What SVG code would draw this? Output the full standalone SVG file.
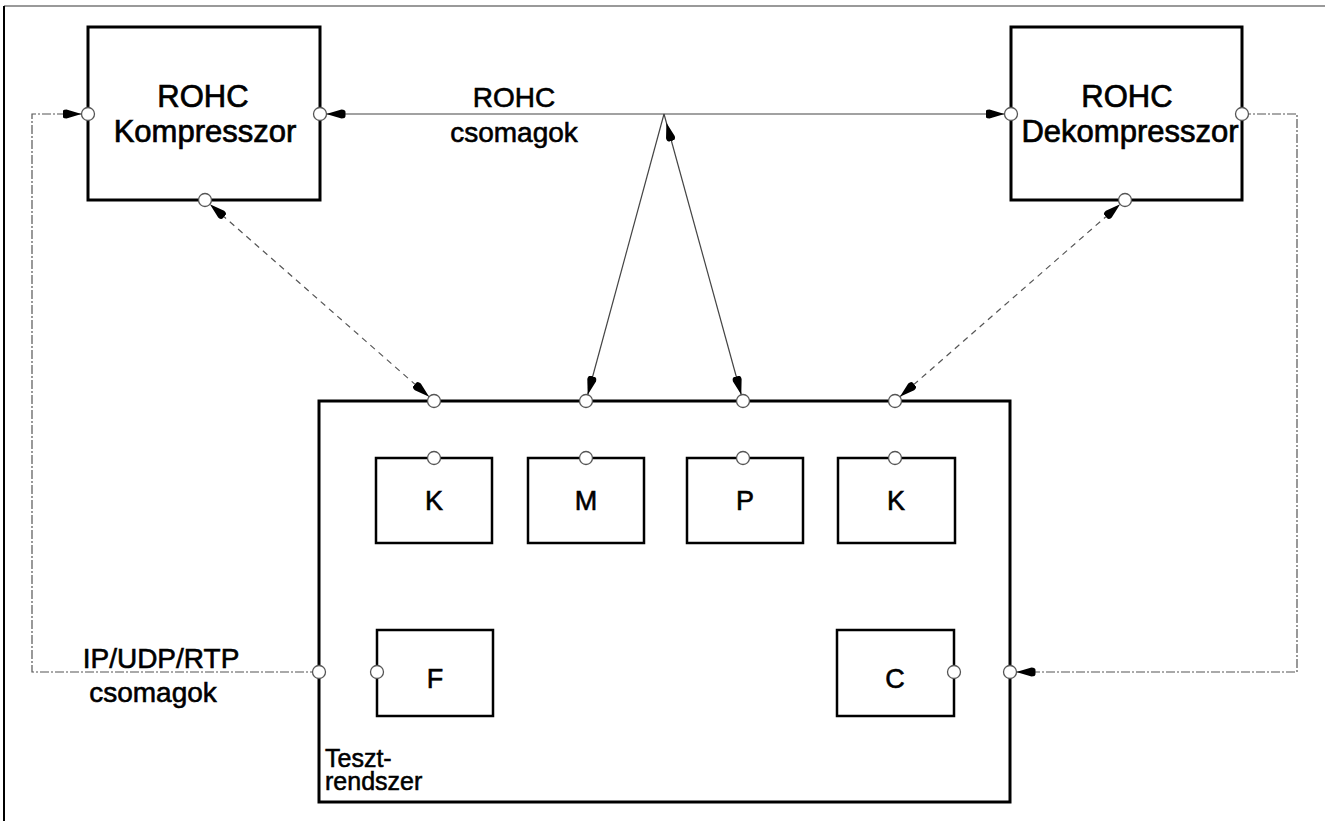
<svg xmlns="http://www.w3.org/2000/svg" width="1325" height="821" viewBox="0 0 1325 821">
<style>
.box{fill:#fff;stroke:#000;stroke-width:3}
.ibox{fill:#fff;stroke:#000;stroke-width:2.5}
.lbl{font-family:"Liberation Sans",Arial,sans-serif;font-size:31px;fill:#000;stroke:#000;stroke-width:0.7;text-anchor:middle}
.clbl{font-family:"Liberation Sans",Arial,sans-serif;font-size:28px;fill:#000;stroke:#000;stroke-width:0.6;text-anchor:middle}
.let{font-family:"Liberation Sans",Arial,sans-serif;font-size:27px;fill:#000;stroke:#000;stroke-width:0.6;text-anchor:middle}
.lbl-l{font-family:"Liberation Sans",Arial,sans-serif;font-size:25px;fill:#000;stroke:#000;stroke-width:0.55}
.solid{stroke:#444;stroke-width:1.2;fill:none}
.dash{stroke:#555;stroke-width:1.2;fill:none;stroke-dasharray:6,5}
.dashdot{stroke:#555;stroke-width:1.2;fill:none;stroke-dasharray:9,2,2,2}
.port{fill:#fff;stroke:#555;stroke-width:1.3}
</style>
<defs>
<marker id="arr" markerUnits="userSpaceOnUse" viewBox="0 0 19 11" markerWidth="19" markerHeight="11" refX="25.5" refY="5.5" orient="auto-start-reverse">
<path d="M0,3.5 Q0,1 4,1 L19,5.5 L4,10 Q0,10 0,7.5 Z" fill="#000"/>
</marker>
<marker id="arrJ" markerUnits="userSpaceOnUse" viewBox="0 0 19 11" markerWidth="19" markerHeight="11" refX="28" refY="5.5" orient="auto-start-reverse">
<path d="M0,3.5 Q0,1 4,1 L19,5.5 L4,10 Q0,10 0,7.5 Z" fill="#000"/>
</marker>
</defs>
<rect width="1325" height="821" fill="#fff"/>
<g id="frame">
<line x1="4" y1="6" x2="1325" y2="6" stroke="#777" stroke-width="1.5"/>
<line x1="4" y1="6" x2="4" y2="821" stroke="#000" stroke-width="2"/>
</g>
<g id="connectors">
<line class="solid" x1="320" y1="114" x2="1011" y2="114" marker-start="url(#arr)" marker-end="url(#arr)"/>
<line class="solid" x1="664" y1="114" x2="586" y2="401" marker-end="url(#arr)"/>
<line class="solid" x1="664" y1="114" x2="743" y2="401" marker-start="url(#arrJ)" marker-end="url(#arr)"/>
<line class="dash" x1="205" y1="200" x2="434" y2="401" marker-start="url(#arr)" marker-end="url(#arr)"/>
<line class="dash" x1="1125" y1="200" x2="895" y2="401" marker-start="url(#arr)" marker-end="url(#arr)"/>
<line class="dash" x1="434" y1="401" x2="434" y2="458"/>
<line class="solid" x1="586" y1="401" x2="586" y2="458"/>
<line class="solid" x1="743" y1="401" x2="743" y2="458"/>
<line class="dash" x1="895" y1="401" x2="895" y2="458"/>
<polyline class="dashdot" points="319,672 32,672 32,114 88,114" marker-end="url(#arr)"/>
<line class="dashdot" x1="319" y1="672" x2="377" y2="672"/>
<polyline class="dashdot" points="1242,114 1297,114 1297,672 1010,672" marker-end="url(#arr)"/>
<line class="dashdot" x1="1010" y1="672" x2="954" y2="672"/>
</g>
<g id="kompresszor">
<rect class="box" x="88" y="27" width="232" height="173"/>
<text class="lbl" x="203" y="107">ROHC</text>
<text class="lbl" x="205" y="142">Kompresszor</text>
</g>
<g id="dekompresszor">
<rect class="box" x="1011" y="27" width="231" height="173"/>
<text class="lbl" x="1127" y="107">ROHC</text>
<text class="lbl" x="1130" y="142">Dekompresszor</text>
</g>
<g id="rohc-label">
<text class="clbl" x="514" y="107">ROHC</text>
<text class="clbl" x="514" y="142">csomagok</text>
</g>
<g id="ip-label">
<text class="clbl" x="161" y="668">IP/UDP/RTP</text>
<text class="clbl" x="153" y="702">csomagok</text>
</g>
<g id="tesztrendszer">
<rect class="box" x="319" y="401" width="691" height="401"/>
<text class="lbl-l" x="325" y="767">Teszt-</text>
<text class="lbl-l" x="325" y="790">rendszer</text>
</g>
<g id="K1"><rect class="ibox" x="376" y="458" width="116" height="85"/><text class="let" x="434" y="510">K</text></g>
<g id="M"><rect class="ibox" x="528" y="458" width="116" height="85"/><text class="let" x="586" y="510">M</text></g>
<g id="P"><rect class="ibox" x="687" y="458" width="116" height="85"/><text class="let" x="745" y="510">P</text></g>
<g id="K2"><rect class="ibox" x="838" y="458" width="117" height="85"/><text class="let" x="896" y="510">K</text></g>
<g id="F"><rect class="ibox" x="377" y="630" width="116" height="86"/><text class="let" x="435" y="688">F</text></g>
<g id="C"><rect class="ibox" x="837" y="630" width="117" height="86"/><text class="let" x="895" y="688">C</text></g>
<g id="ports">
<circle class="port" cx="88" cy="114" r="6.5"/>
<circle class="port" cx="320" cy="114" r="6.5"/>
<circle class="port" cx="205" cy="200" r="6.5"/>
<circle class="port" cx="1011" cy="114" r="6.5"/>
<circle class="port" cx="1242" cy="114" r="6.5"/>
<circle class="port" cx="1125" cy="200" r="6.5"/>
<circle class="port" cx="434" cy="401" r="6.5"/>
<circle class="port" cx="586" cy="401" r="6.5"/>
<circle class="port" cx="743" cy="401" r="6.5"/>
<circle class="port" cx="895" cy="401" r="6.5"/>
<circle class="port" cx="434" cy="458" r="6.5"/>
<circle class="port" cx="586" cy="458" r="6.5"/>
<circle class="port" cx="743" cy="458" r="6.5"/>
<circle class="port" cx="895" cy="458" r="6.5"/>
<circle class="port" cx="377" cy="672" r="6.5"/>
<circle class="port" cx="319" cy="672" r="6.5"/>
<circle class="port" cx="954" cy="672" r="6.5"/>
<circle class="port" cx="1010" cy="672" r="6.5"/>
</g>
</svg>
